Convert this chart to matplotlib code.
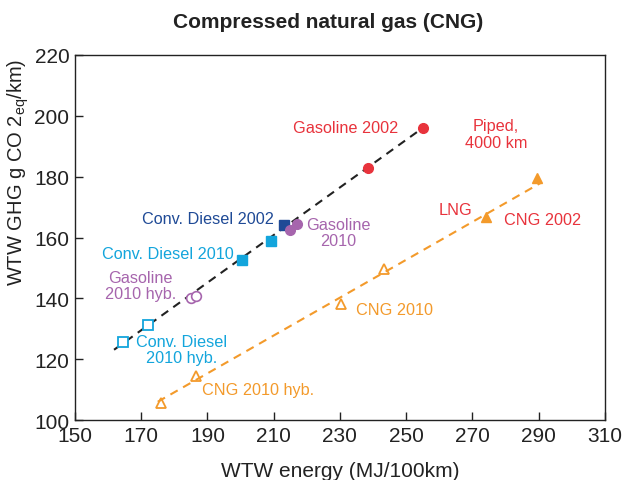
import matplotlib
matplotlib.use("Agg")
import matplotlib.pyplot as plt

plt.rcParams['font.family'] = ['Liberation Sans', 'DejaVu Sans']

# colours
RED = '#e8333c'
ORANGE = '#f39a2b'
NAVY = '#1f4a96'
CYAN = '#13a5dc'
PURPLE = '#a665ad'

# data points (WTW energy MJ/100km, WTW GHG g CO2eq/km)
gas2002_x = [238.5, 255.0]
gas2002_y = [183.0, 196.0]
diesel2002_x = [213.0]
diesel2002_y = [164.0]
gas2010_x = [214.8, 217.0]
gas2010_y = [162.4, 164.3]
diesel2010_x = [200.3, 209.2]
diesel2010_y = [152.6, 158.7]
gas2010hyb_x = [184.9, 186.5]
gas2010hyb_y = [140.1, 140.8]
diesel2010hyb_x = [164.4, 172.1]
diesel2010hyb_y = [125.5, 131.2]
cng2002_x = [274.0, 289.6]
cng2002_y = [166.6, 179.5]
cng2010_x = [230.3, 243.4]
cng2010_y = [138.3, 149.6]
cng2010hyb_x = [176.0, 186.4]
cng2010hyb_y = [105.7, 114.5]

# trend lines
conv_line_x = [161.8, 255.0]
conv_line_y = [123.1, 196.0]
cng_line_x = [175.0, 290.9]
cng_line_y = [106.0, 178.1]

xticks = [150, 170, 190, 210, 230, 250, 270, 290, 310]
yticks = [100, 120, 140, 160, 180, 200, 220]

fig = plt.figure(figsize=(6.28, 4.81), dpi=100)
ax = fig.add_axes([0.1194, 0.1247, 0.8436, 0.7589])

ax.plot(conv_line_x, conv_line_y, color='#222222', ls=(0, (4, 3)), lw=1.5, zorder=2)
ax.plot(cng_line_x, cng_line_y, color=ORANGE, ls=(0, (4, 3)), lw=1.5, zorder=2)

ms = 7
ax.plot(gas2002_x, gas2002_y, 'o', color=RED, ms=ms, ls='none', zorder=3)
ax.plot(diesel2002_x, diesel2002_y, 's', color=NAVY, ms=ms, ls='none', zorder=3)
ax.plot(gas2010_x, gas2010_y, 'o', color=PURPLE, ms=ms, ls='none', zorder=3)
ax.plot(diesel2010_x, diesel2010_y, 's', color=CYAN, ms=ms, ls='none', zorder=3)
ax.plot(gas2010hyb_x, gas2010hyb_y, 'o', mfc='white', mec=PURPLE, mew=1.2, ms=ms, ls='none', zorder=3)
ax.plot(diesel2010hyb_x, diesel2010hyb_y, 's', mfc='white', mec=CYAN, mew=1.3, ms=ms, ls='none', zorder=3)
ax.plot(cng2002_x, cng2002_y, '^', color=ORANGE, ms=ms, ls='none', zorder=3)
ax.plot(cng2010_x, cng2010_y, '^', mfc='none', mec=ORANGE, mew=1.3, ms=ms, ls='none', zorder=3)
ax.plot(cng2010hyb_x, cng2010hyb_y, '^', mfc='none', mec=ORANGE, mew=1.3, ms=ms, ls='none', zorder=3)

fs = 11.7
ax.text(231.8, 196.3, 'Gasoline 2002', color=RED, fontsize=fs, ha='center', va='center')
ax.text(277.2, 194.0, 'Piped,\n4000 km', color=RED, fontsize=fs, ha='center', va='center', linespacing=1.1)
ax.text(264.9, 169.3, 'LNG', color=RED, fontsize=fs, ha='center', va='center')
ax.text(291.3, 166.0, 'CNG 2002', color=RED, fontsize=fs, ha='center', va='center')
ax.text(190.2, 166.4, 'Conv. Diesel 2002', color=NAVY, fontsize=fs, ha='center', va='center')
ax.text(229.4, 161.6, 'Gasoline\n2010', color=PURPLE, fontsize=fs, ha='center', va='center', linespacing=1.1)
ax.text(178.2, 154.9, 'Conv. Diesel 2010', color=CYAN, fontsize=fs, ha='center', va='center')
ax.text(169.9, 144.3, 'Gasoline\n2010 hyb.', color=PURPLE, fontsize=fs, ha='center', va='center', linespacing=1.1)
ax.text(182.3, 123.3, 'Conv. Diesel\n2010 hyb.', color=CYAN, fontsize=fs, ha='center', va='center', linespacing=1.1)
ax.text(246.5, 136.4, 'CNG 2010', color=ORANGE, fontsize=fs, ha='center', va='center')
ax.text(205.2, 110.1, 'CNG 2010 hyb.', color=ORANGE, fontsize=fs, ha='center', va='center')

ax.set_xlim(150, 310)
ax.set_ylim(100, 220)
ax.set_xticks(xticks)
ax.set_yticks(yticks)
ax.tick_params(direction='in', length=6, width=1, labelsize=15, colors='#222222', pad=4)
for s in ax.spines.values():
    s.set_linewidth(1.0)
    s.set_color('#222222')

ax.set_xlabel('WTW energy (MJ/100km)', fontsize=15, color='#222222', labelpad=12)
ax.set_ylabel('WTW GHG g CO 2$_{\\mathregular{eq}}$/km)', fontsize=14.5, color='#222222')
ax.yaxis.set_label_coords(-0.083, 0.68)

fig.text(328 / 628, 1 - 22 / 481, 'Compressed natural gas (CNG)', fontsize=15,
         fontweight='bold', ha='center', va='center', color='#222222')

fig.savefig('out.png', dpi=100)
